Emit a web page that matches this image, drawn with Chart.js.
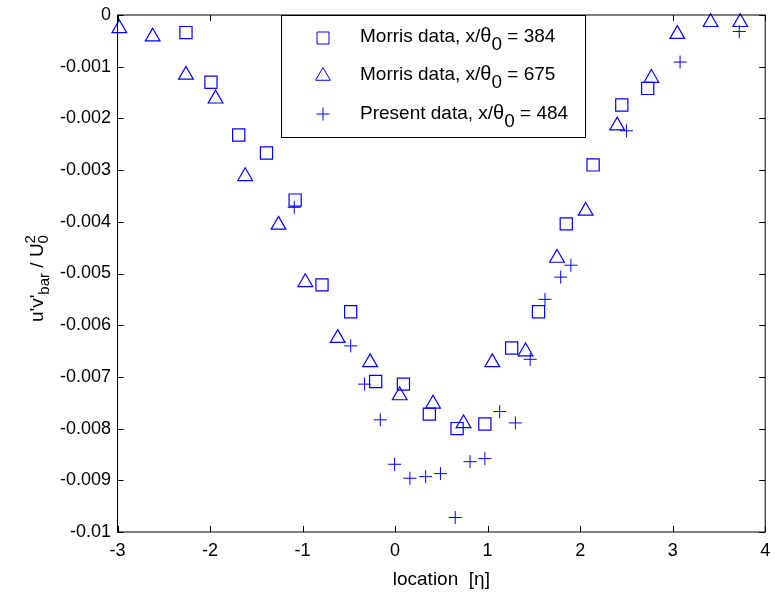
<!DOCTYPE html>
<html>
<head>
<meta charset="utf-8">
<script src="https://cdn.jsdelivr.net/npm/chart.js@4"></script>
<style>
  html, body { margin: 0; padding: 0; background: #fff; }
</style>
</head>
<body>
<canvas id="stressChart" width="775" height="592"></canvas>
<script>
// Morris data, x/theta0 = 384 (squares)
const morris384X = [-2.26, -1.99, -1.69, -1.39, -1.08, -0.79, -0.48, -0.21, 0.09, 0.37, 0.67, 0.97, 1.26, 1.55, 1.85, 2.14, 2.45, 2.73];
const morris384Y = [-0.00034, -0.0013, -0.00232, -0.00267, -0.00358, -0.00522, -0.00574, -0.00709, -0.00714, -0.00772, -0.00800, -0.00791, -0.00644, -0.00574, -0.00404, -0.0029, -0.00174, -0.00142];

// Morris data, x/theta0 = 675 (triangles)
const morris675X = [-2.98, -2.62, -2.26, -1.94, -1.62, -1.26, -0.97, -0.62, -0.27, 0.05, 0.41, 0.74, 1.05, 1.41, 1.75, 2.06, 2.40, 2.77, 3.05, 3.41, 3.73];
const morris675Y = [-0.00026, -0.00042, -0.00116, -0.00162, -0.00312, -0.00406, -0.00517, -0.00625, -0.00672, -0.00736, -0.00752, -0.0079, -0.00672, -0.00651, -0.0047, -0.00379, -0.00214, -0.00122, -0.00037, -0.00014, -0.00014];

// Present data, x/theta0 = 484 (plus signs)
const presentX = [-1.09, -0.48, -0.33, -0.16, -0.005, 0.16, 0.33, 0.49, 0.65, 0.81, 0.97, 1.13, 1.30, 1.46, 1.62, 1.79, 1.90, 2.50, 3.08, 3.72];
const presentY = [-0.00372, -0.0064, -0.00714, -0.00783, -0.00869, -0.00896, -0.00893, -0.00887, -0.00972, -0.00864, -0.00858, -0.00767, -0.00789, -0.00666, -0.0055, -0.00507, -0.00484, -0.00224, -0.00091, -0.00032];

const xTicks = [-3, -2, -1, 0, 1, 2, 3, 4];
const yTicks = [0, -0.001, -0.002, -0.003, -0.004, -0.005, -0.006, -0.007, -0.008, -0.009, -0.01];

const seriesLabels = ['384', '675', '484'];
const seriesNames = ['Morris data, x/', 'Morris data, x/', 'Present data, x/'];

const blue = '#0000ff';
const font = '"Liberation Sans", Arial, sans-serif';

function toPoints(xs, ys) {
  return xs.map((x, i) => ({ x: x, y: ys[i] }));
}

// draw text pieces one after the other on a baseline
function drawRich(ctx, parts, x, y) {
  let cx = x;
  parts.forEach(p => {
    if (p.stack) {
      ctx.font = p.size + 'px ' + font;
      ctx.fillText(p.sup, cx, y - p.supDy);
      ctx.fillText(p.sub, cx, y + p.subDy);
      cx += Math.max(ctx.measureText(p.sup).width, ctx.measureText(p.sub).width);
      return;
    }
    ctx.font = p.size + 'px ' + font;
    ctx.fillText(p.t, cx, y + (p.dy || 0));
    cx += ctx.measureText(p.t).width;
  });
  return cx - x;
}

function drawMarker(ctx, style, x, y) {
  ctx.beginPath();
  if (style === 'rect') {
    ctx.rect(x - 6, y - 6, 12, 12);
  } else if (style === 'triangle') {
    ctx.moveTo(x, y - 8.5);
    ctx.lineTo(x + 7.4, y + 4.25);
    ctx.lineTo(x - 7.4, y + 4.25);
    ctx.closePath();
  } else {
    ctx.moveTo(x - 6.5, y); ctx.lineTo(x + 6.5, y);
    ctx.moveTo(x, y - 6.5); ctx.lineTo(x, y + 6.5);
  }
  ctx.stroke();
}

const framePlugin = {
  id: 'framePlugin',
  afterDatasetsDraw(chart) {
    const ctx = chart.ctx;
    const a = chart.chartArea;
    const xs = chart.scales.x, ys = chart.scales.y;
    ctx.save();
    ctx.strokeStyle = '#000';
    ctx.lineWidth = 1;
    ctx.strokeRect(a.left, a.top, a.right - a.left, a.bottom - a.top);
    // inward ticks on all four sides
    ctx.beginPath();
    xTicks.forEach(v => {
      const px = Math.round(xs.getPixelForValue(v)) + 0.5;
      ctx.moveTo(px, a.bottom); ctx.lineTo(px, a.bottom - 6);
      ctx.moveTo(px, a.top); ctx.lineTo(px, a.top + 6);
    });
    yTicks.forEach(v => {
      const py = Math.round(ys.getPixelForValue(v)) + 0.5;
      ctx.moveTo(a.left, py); ctx.lineTo(a.left + 6, py);
      ctx.moveTo(a.right, py); ctx.lineTo(a.right - 6, py);
    });
    ctx.stroke();

    // legend box
    const lx = 281, ly = 15, lw = 304, lh = 122;
    ctx.fillStyle = '#fff';
    ctx.fillRect(lx, ly, lw, lh);
    ctx.strokeRect(lx + 0.5, ly + 0.5, lw, lh);
    const styles = ['rect', 'triangle', 'cross'];
    const markY = [38, 76, 114];
    const textY = [41.5, 80, 118.5];
    ctx.strokeStyle = blue;
    ctx.lineWidth = 1;
    styles.forEach((s, i) => drawMarker(ctx, s, 323, markY[i]));
    ctx.fillStyle = '#000';
    ctx.textBaseline = 'alphabetic';
    ctx.textAlign = 'left';
    seriesNames.forEach((name, i) => {
      drawRich(ctx, [
        { t: name, size: 19 },
        { t: '\u03b8', size: 20 },
        { t: '0', size: 19, dy: 8 },
        { t: ' = ' + seriesLabels[i], size: 19 }
      ], 360, textY[i]);
    });

    // x axis title
    ctx.font = '19px ' + font;
    ctx.textAlign = 'center';
    ctx.fillText('location  [\u03b7]', (a.left + a.right) / 2, 585);

    // y axis title (rotated)
    ctx.translate(43, (a.top + a.bottom) / 2 + 5);
    ctx.rotate(-Math.PI / 2);
    ctx.textAlign = 'left';
    const parts = [
      { t: "u'v'", size: 19 },
      { t: 'bar', size: 15, dy: 6 },
      { t: ' / U', size: 19 },
      { stack: true, sup: '2', sub: '0', size: 15, supDy: 8, subDy: 5 }
    ];
    ctx.globalAlpha = 0;
    const w = drawRich(ctx, parts, 0, 0);
    ctx.globalAlpha = 1;
    drawRich(ctx, parts, -w / 2, 0);
    ctx.restore();
  }
};

const ctx = document.getElementById('stressChart').getContext('2d');
new Chart(ctx, {
  type: 'scatter',
  data: {
    datasets: [
      {
        label: 'Morris data, x/θ0 = 384',
        data: toPoints(morris384X, morris384Y),
        pointStyle: 'rect',
        pointRadius: 8.6,
        borderColor: blue,
        backgroundColor: 'rgba(0,0,0,0)',
        borderWidth: 1.2,
        clip: false
      },
      {
        label: 'Morris data, x/θ0 = 675',
        data: toPoints(morris675X, morris675Y),
        pointStyle: 'triangle',
        pointRadius: 8.5,
        borderColor: blue,
        backgroundColor: 'rgba(0,0,0,0)',
        borderWidth: 1.2,
        clip: false
      },
      {
        label: 'Present data, x/θ0 = 484',
        data: toPoints(presentX, presentY),
        pointStyle: 'cross',
        pointRadius: 6.5,
        borderColor: blue,
        backgroundColor: blue,
        borderWidth: 1,
        clip: false
      }
    ]
  },
  options: {
    responsive: false,
    animation: false,
    layout: { padding: { top: 15, right: 6, left: 0, bottom: 0 } },
    plugins: {
      legend: { display: false },
      tooltip: { enabled: false }
    },
    scales: {
      x: {
        type: 'linear',
        min: -3,
        max: 4,
        afterBuildTicks: s => { s.ticks = xTicks.map(v => ({ value: v })); },
        afterFit: s => { s.height = 60; s.paddingLeft = 0; s.paddingRight = 0; },
        grid: { display: false, drawTicks: false },
        border: { display: false },
        ticks: {
          padding: 8,
          color: '#000',
          font: { family: font, size: 18 },
          callback: v => String(v)
        }
      },
      y: {
        type: 'linear',
        min: -0.01,
        max: 0,
        afterBuildTicks: s => { s.ticks = yTicks.map(v => ({ value: v })); },
        afterFit: s => { s.width = 117.5; s.paddingTop = 0; s.paddingBottom = 0; },
        grid: { display: false, drawTicks: false },
        border: { display: false },
        ticks: {
          padding: 6.5,
          color: '#000',
          font: { family: font, size: 18 },
          callback: v => String(Number(v.toFixed(4)))
        }
      }
    }
  },
  plugins: [framePlugin]
});
</script>
</body>
</html>
